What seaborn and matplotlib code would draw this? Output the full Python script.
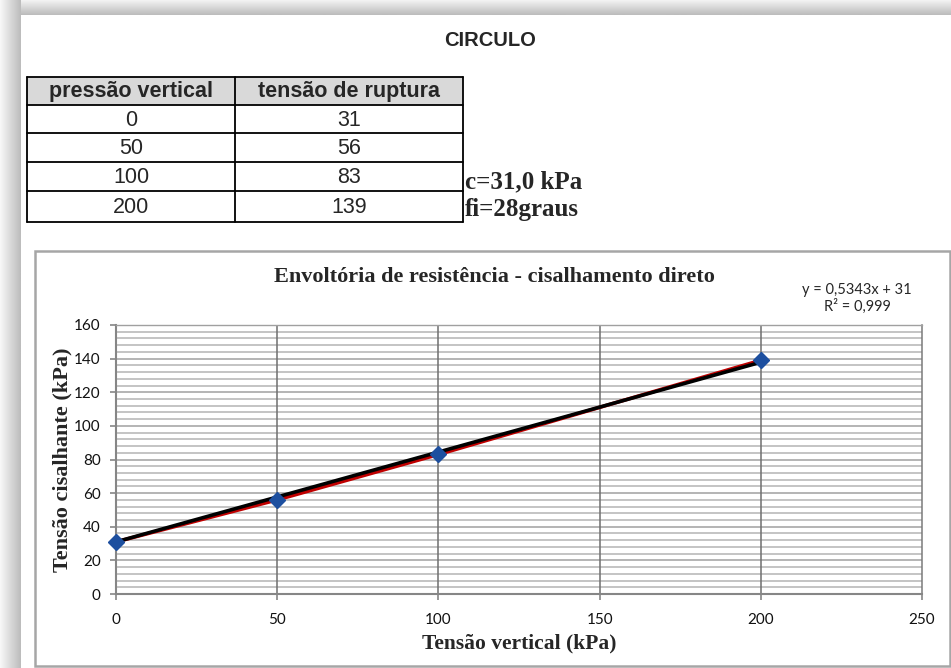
import numpy as np
import pandas as pd
import matplotlib
matplotlib.use("Agg")
import matplotlib.pyplot as plt
from matplotlib.patches import Rectangle
from matplotlib.ticker import MultipleLocator
import seaborn as sns

# ---- data ----
pressao_vertical = [0, 50, 100, 200]
tensao_ruptura = [31, 56, 83, 139]
table_headers = ["pressão vertical", "tensão de ruptura"]
trend_slope = 0.5343
trend_intercept = 31
coesao_text = "c=31,0 kPa"
atrito_text = "fi=28graus"
x_ticks = [0, 50, 100, 150, 200, 250]
y_ticks = [0, 20, 40, 60, 80, 100, 120, 140, 160]

sns.set_style("white")
plt.rcParams["font.family"] = ["Liberation Sans", "DejaVu Sans"]

W, H = 951, 668
fig = plt.figure(figsize=(W / 100, H / 100), dpi=100)
fig.patch.set_facecolor("white")

# background axes in pixel coordinates
bg = fig.add_axes([0, 0, 1, 1], zorder=0)
bg.set_xlim(0, W)
bg.set_ylim(H, 0)
bg.axis("off")

# shadow bands
top = np.linspace(0.95, 0.74, 15).reshape(-1, 1)
bg.imshow(np.repeat(top, 2, axis=1), cmap="gray", vmin=0, vmax=1,
          extent=(0, W, 15, 0), aspect="auto", interpolation="bilinear", zorder=1)
left = np.linspace(0.97, 0.74, 21).reshape(1, -1)
bg.imshow(np.repeat(left, 2, axis=0), cmap="gray", vmin=0, vmax=1,
          extent=(0, 21, H, 0), aspect="auto", interpolation="bilinear", zorder=1)
bg.set_xlim(0, W)
bg.set_ylim(H, 0)

# page title
bg.text(490, 40, "CIRCULO", ha="center", va="center", fontsize=14.5,
        fontweight="bold", family=["Liberation Sans"], zorder=3)

# table
col_x = [27, 235, 463]
row_y = [77, 105, 133, 162, 191, 222]
bg.add_patch(Rectangle((col_x[0], row_y[0]), col_x[2] - col_x[0], row_y[1] - row_y[0],
                       facecolor="#d9d9d9", edgecolor="none", zorder=2))
for yv in row_y:
    bg.plot([col_x[0], col_x[2]], [yv, yv], color="black", lw=1.3, zorder=3)
for xv in col_x:
    bg.plot([xv, xv], [row_y[0], row_y[-1]], color="black", lw=1.3, zorder=3)
for j, h in enumerate(table_headers):
    bg.text((col_x[j] + col_x[j + 1]) / 2, (row_y[0] + row_y[1]) / 2 + 1, h,
            ha="center", va="center", fontsize=15.5, fontweight="bold", zorder=4)
for i, (p, t) in enumerate(zip(pressao_vertical, tensao_ruptura)):
    yc = (row_y[i + 1] + row_y[i + 2]) / 2 + 1
    bg.text((col_x[0] + col_x[1]) / 2, yc, str(p), ha="center", va="center",
            fontsize=15.5, zorder=4)
    bg.text((col_x[1] + col_x[2]) / 2, yc, str(t), ha="center", va="center",
            fontsize=15.5, zorder=4)

bg.text(465, 188, coesao_text, ha="left", va="baseline", fontsize=18,
        fontweight="bold", family=["Liberation Serif"], zorder=4)
bg.text(465, 216, atrito_text, ha="left", va="baseline", fontsize=18,
        fontweight="bold", family=["Liberation Serif"], zorder=4)

# chart box
bg.add_patch(Rectangle((35, 251), 950 - 35, 666 - 251, facecolor="white",
                       edgecolor="#a6a6a6", lw=1.8, zorder=2))
bg.text(494, 277, "Envoltória de resistência - cisalhamento direto",
        ha="center", va="center", fontsize=16, fontweight="bold",
        family=["Liberation Serif"], zorder=4)
bg.text(857, 290, "y = 0,5343x + 31", ha="center", va="center", fontsize=10.5,
        family=["Lato"], zorder=4)
bg.text(857, 306, "R² = 0,999", ha="center", va="center", fontsize=10.5,
        family=["Lato"], zorder=4)
bg.text(519, 643, "Tensão vertical (kPa)", ha="center", va="center",
        fontsize=15.5, fontweight="bold", family=["Liberation Serif"], zorder=4)
bg.text(62, 460, "Tensão cisalhante (kPa)", ha="center", va="center",
        rotation=90, fontsize=16, fontweight="bold",
        family=["Liberation Serif"], zorder=4)

# plot axes
px_l, px_r, px_t, px_b = 116, 922, 325, 594
ax = fig.add_axes([px_l / W, (H - px_b) / H, (px_r - px_l) / W, (px_b - px_t) / H],
                  zorder=2)
ax.set_facecolor("white")

df = pd.DataFrame({"x": pressao_vertical, "y": tensao_ruptura})
x_fit = np.array([min(pressao_vertical), max(pressao_vertical)])
trend = pd.DataFrame({"x": x_fit, "y": trend_slope * x_fit + trend_intercept})

sns.lineplot(data=df, x="x", y="y", ax=ax, color="#c00000", lw=2.6, zorder=4)
sns.lineplot(data=trend, x="x", y="y", ax=ax, color="black", lw=2.6, zorder=5)
ax.plot(df["x"], df["y"], ls="none", marker="D", markersize=7.8,
        color="#1d4f9f", markeredgecolor="#1d4f9f", zorder=6, clip_on=False)

ax.set_xlim(0, 250)
ax.set_ylim(0, 160)
ax.set_xticks(x_ticks)
ax.set_yticks(y_ticks)
ax.yaxis.set_minor_locator(MultipleLocator(4))
ax.grid(which="minor", axis="y", color="#c4c4c4", lw=1.4, zorder=0)
ax.grid(which="major", axis="y", color="#b4b4b4", lw=1.4, zorder=0)
ax.grid(False, axis="x")
for xv in x_ticks[1:-1]:
    ax.axvline(xv, color="#6f6f6f", lw=1.1, zorder=2)
ax.set_axisbelow(True)
for s in ["left", "bottom"]:
    ax.spines[s].set_color("#868686")
    ax.spines[s].set_linewidth(1.5)
ax.spines["right"].set_color("#7a7a7a")
ax.spines["right"].set_linewidth(1.1)
ax.spines["top"].set_color("#a0a0a0")
ax.spines["top"].set_linewidth(1.0)
ax.tick_params(axis="both", which="major", direction="out", length=4,
               width=1.2, color="#868686", labelsize=11, labelcolor="#111111")
ax.tick_params(axis="y", which="major", pad=7, left=True)
ax.tick_params(axis="x", which="major", pad=10, bottom=True)
ax.tick_params(which="minor", length=0)
for lab in ax.get_xticklabels() + ax.get_yticklabels():
    lab.set_family(["Lato"])
ax.set_xlabel("")
ax.set_ylabel("")

fig.savefig("out.png", dpi=100, facecolor="white")
